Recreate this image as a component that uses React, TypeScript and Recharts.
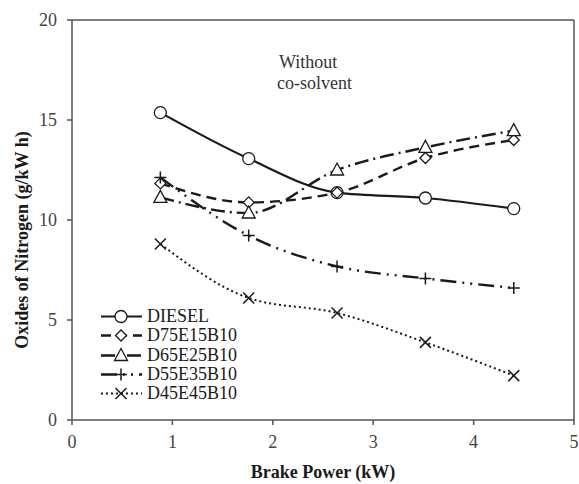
import React from "react";
import {
  Legend,
  Line,
  LineChart,
  ReferenceLine,
  XAxis,
  YAxis,
} from "recharts";

const power = [0.88, 1.76, 2.64, 3.52, 4.4];
const diesel = [15.37, 13.07, 11.37, 11.1, 10.57];
const d75 = [11.83, 10.88, 11.37, 13.1, 14.0];
const d65 = [11.13, 10.35, 12.5, 13.63, 14.47];
const d55 = [12.13, 9.22, 7.68, 7.08, 6.6];
const d45 = [8.8, 6.1, 5.35, 3.88, 2.22];

const xTicks = [0, 1, 2, 3, 4, 5];
const yTicks = [0, 5, 10, 15, 20];

const data = power.map((p, i) => ({
  power: p,
  diesel: diesel[i],
  d75: d75[i],
  d65: d65[i],
  d55: d55[i],
  d45: d45[i],
}));

const INK = "#1a1a1a";
const FONT = "Liberation Serif, serif";

type Kind = "circle" | "diamond" | "triangle" | "plus" | "cross";

const series: { key: string; name: string; dash?: string; marker: Kind; width: number }[] = [
  { key: "diesel", name: "DIESEL", marker: "circle", width: 2.2 },
  { key: "d75", name: "D75E15B10", dash: "10 6", marker: "diamond", width: 2.4 },
  { key: "d65", name: "D65E25B10", dash: "14 5 2 5", marker: "triangle", width: 2.4 },
  { key: "d55", name: "D55E35B10", dash: "16 6 2 6 2 6", marker: "plus", width: 2.4 },
  { key: "d45", name: "D45E45B10", dash: "2 3", marker: "cross", width: 2 },
];

function Marker({ kind, cx, cy }: { kind: Kind; cx: number; cy: number }) {
  const s = { stroke: INK, strokeWidth: 1.3, fill: "#fff" };
  if (kind === "circle") return <circle cx={cx} cy={cy} r={6} {...s} />;
  if (kind === "diamond")
    return (
      <polygon
        points={`${cx},${cy - 5.5} ${cx + 5.5},${cy} ${cx},${cy + 5.5} ${cx - 5.5},${cy}`}
        {...s}
      />
    );
  if (kind === "triangle")
    return (
      <polygon
        points={`${cx},${cy - 7} ${cx + 6.5},${cy + 5} ${cx - 6.5},${cy + 5}`}
        {...s}
      />
    );
  if (kind === "plus")
    return (
      <path
        d={`M${cx - 6},${cy}H${cx + 6}M${cx},${cy - 6}V${cy + 6}`}
        stroke={INK}
        strokeWidth={1.5}
      />
    );
  return (
    <path
      d={`M${cx - 5.5},${cy - 5.5}L${cx + 5.5},${cy + 5.5}M${cx + 5.5},${cy - 5.5}L${cx - 5.5},${cy + 5.5}`}
      stroke={INK}
      strokeWidth={1.5}
    />
  );
}

function LegendBox() {
  return (
    <div style={{ fontFamily: FONT, fontSize: 18, color: INK }}>
      {series.map((s) => (
        <div
          key={s.key}
          style={{ display: "flex", alignItems: "center", height: 19.3 }}
        >
          <svg width={46} height={19}>
            <line
              x1={1}
              y1={9.5}
              x2={42}
              y2={9.5}
              stroke={INK}
              strokeWidth={s.width}
              strokeDasharray={s.dash}
            />
            <Marker kind={s.marker} cx={21} cy={9.5} />
          </svg>
          <span style={{ marginLeft: 1, lineHeight: "19px" }}>{s.name}</span>
        </div>
      ))}
    </div>
  );
}

const tickStyle = { fontFamily: FONT, fontSize: 18, fill: "#444" };

export default function App() {
  return (
    <div style={{ position: "absolute", left: 0, top: 0, width: 579, height: 484, fontFamily: FONT }}>
      <LineChart
        width={579}
        height={484}
        data={data}
        margin={{ top: 20, right: 5, bottom: 0, left: 0 }}
        style={{ fontFamily: FONT }}
      >
        <XAxis
          dataKey="power"
          type="number"
          domain={[0, 5]}
          ticks={xTicks}
          height={64}
          tick={tickStyle}
          tickSize={5}
          tickMargin={10}
          stroke="#555"
          strokeWidth={1.5}
          label={{
            value: "Brake Power (kW)",
            position: "insideBottom",
            offset: 6,
            style: { fontFamily: FONT, fontSize: 18, fontWeight: "bold", fill: INK },
          }}
        />
        <YAxis
          type="number"
          domain={[0, 20]}
          ticks={yTicks}
          width={72}
          tick={tickStyle}
          tickSize={5}
          tickMargin={10}
          stroke="#555"
          strokeWidth={1.5}
          label={{
            content: () => (
              <text
                x={22}
                y={240}
                transform="rotate(-90, 22, 240)"
                textAnchor="middle"
                dominantBaseline="central"
                fontFamily={FONT}
                fontSize={18}
                fontWeight="bold"
                fill={INK}
              >
                Oxides of Nitrogen (g/kW h)
              </text>
            ),
          }}
        />
        <ReferenceLine y={20} stroke="#555" strokeWidth={1.5} />
        <ReferenceLine x={5} stroke="#555" strokeWidth={1.5} />
        {series.map((s) => (
          <Line
            key={s.key}
            dataKey={s.key}
            name={s.name}
            type="monotone"
            stroke={INK}
            strokeWidth={s.width}
            strokeDasharray={s.dash}
            isAnimationActive={false}
            dot={(p: any) => (
              <Marker key={`${s.key}-${p.index}`} kind={s.marker} cx={p.cx} cy={p.cy} />
            )}
            activeDot={false}
          />
        ))}
        <Legend
          layout="vertical"
          align="center"
          verticalAlign="middle"
          content={() => <LegendBox />}
          wrapperStyle={{ left: 100, top: 307, width: "auto", height: "auto" }}
        />
      </LineChart>
      <div
        style={{
          position: "absolute",
          left: 277,
          top: 52,
          fontFamily: FONT,
          fontSize: 18,
          lineHeight: "21px",
          color: "#333",
        }}
      >
        <div style={{ paddingLeft: 2 }}>Without</div>
        <div>co-solvent</div>
      </div>
    </div>
  );
}
